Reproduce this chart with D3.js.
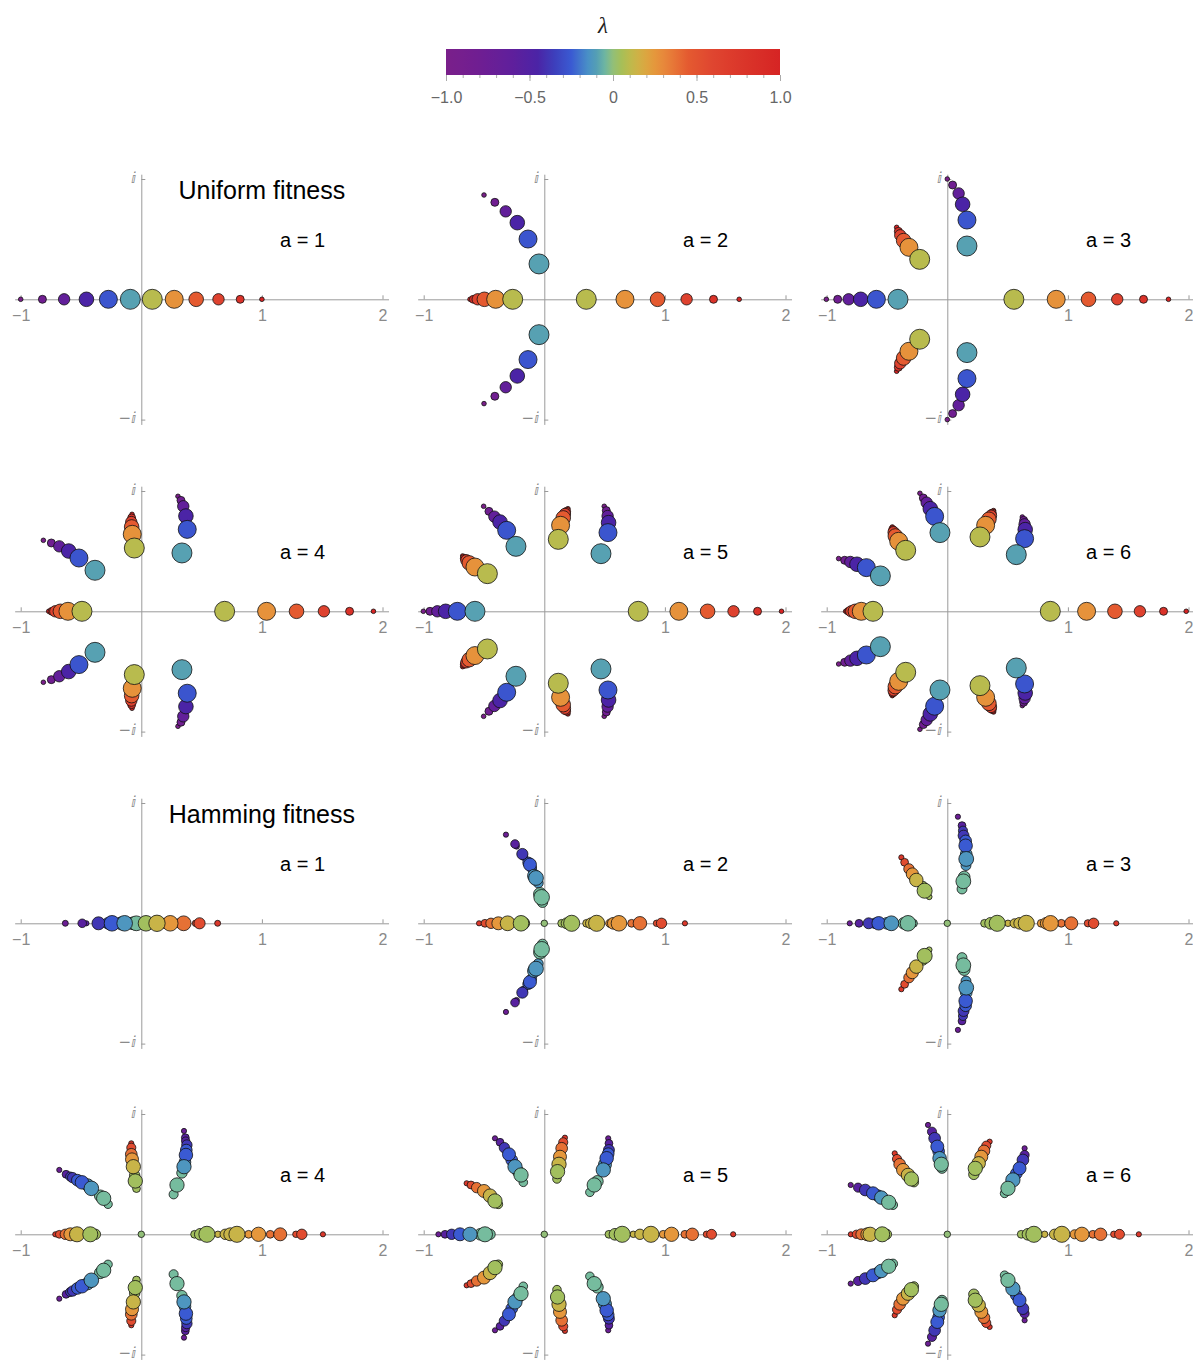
<!DOCTYPE html>
<html>
<head>
<meta charset="utf-8">
<script src="https://cdn.jsdelivr.net/npm/d3@7"></script>
<style>
  body { margin: 0; background: #fff; }
  text { font-family: "Liberation Sans", Arial, sans-serif; }
</style>
</head>
<body>
<div id="chart"></div>
<script>
// colour function for lambda
const colorStops = [-1, -0.8, -0.6, -0.45, -0.35, -0.25, -0.15, -0.07, -0.035, 0, 0.05, 0.1, 0.18, 0.25, 0.32, 0.45, 0.6, 0.8, 1];
const colorValues = ['#7a1f8a', '#6f1e92', '#5f1f9c', '#4b24a6', '#3d3fbc', '#3a5ad2', '#4990c6', '#5ba7ab', '#7bc09c', '#92bf78',
  '#a6bf58', '#bdba4c', '#d9ab42', '#e5973c', '#e8843a', '#e45a30', '#df4530', '#da3429', '#d62424'];
const legendTicks = [-1, -0.5, 0, 0.5, 1];
const legendLabels = ['−1.0', '−0.5', '0', '0.5', '1.0'];

// uniform fitness: lambda levels and the relative point size at each |lambda|
const uniformAbsLevels = [0.09, 0.27, 0.45, 0.64, 0.82, 1];
const uniformWeights = [1.0, 0.9, 0.73, 0.57, 0.4, 0.23];

// points are [re, im, lambda]; only im >= 0 is listed, the conjugate is drawn too
const uniformA1 = [
  [-1, 0, -1], [-0.82, 0, -0.82], [-0.64, 0, -0.64], [-0.455, 0, -0.45], [-0.273, 0, -0.27], [-0.091, 0, -0.09],
  [0.091, 0, 0.09], [0.273, 0, 0.27], [0.455, 0, 0.45], [0.64, 0, 0.64], [0.82, 0, 0.82], [1.0, 0, 1]
];
const uniformA2 = [
  [-0.50, 0.867, -1], [-0.41, 0.806, -0.82], [-0.32, 0.731, -0.64], [-0.224, 0.637, -0.45], [-0.135, 0.501, -0.27], [-0.044, 0.294, -0.09],
  [0.348, 0, 0.09], [0.669, 0, 0.27], [0.939, 0, 0.45], [1.18, 0, 0.64], [1.403, 0, 0.82], [1.616, 0, 1],
  [-0.262, 0, 0.09], [-0.403, 0, 0.27], [-0.497, 0, 0.45], [-0.552, 0, 0.64], [-0.588, 0, 0.82], [-0.616, 0, 1]
];
const uniformA3 = [
  [0.0, 1.0, -1], [0.044, 0.95, -0.82], [0.094, 0.88, -0.64], [0.127, 0.79, -0.45], [0.163, 0.659, -0.27], [0.163, 0.443, -0.09],
  [-1.003, 0, -1], [-0.909, 0, -0.82], [-0.818, 0, -0.64], [-0.718, 0, -0.45], [-0.588, 0, -0.27], [-0.409, 0, -0.09],
  [0.552, 0, 0.09], [0.903, 0, 0.27], [1.171, 0, 0.45], [1.409, 0, 0.64], [1.627, 0, 0.82], [1.834, 0, 1],
  [-0.229, 0.332, 0.09], [-0.318, 0.432, 0.27], [-0.362, 0.488, 0.45], [-0.39, 0.532, 0.64], [-0.406, 0.565, 0.82], [-0.42, 0.598, 1]
];
const uniformA4 = [
  [0.304, 0.956, -1], [0.329, 0.922, -0.82], [0.348, 0.873, -0.64], [0.370, 0.792, -0.45], [0.381, 0.681, -0.27], [0.337, 0.485, -0.09],
  [-0.812, 0.590, -1], [-0.746, 0.568, -0.82], [-0.680, 0.540, -0.64], [-0.602, 0.501, -0.45], [-0.517, 0.443, -0.27], [-0.384, 0.341, -0.09],
  [-0.058, 0.526, 0.09], [-0.075, 0.640, 0.27], [-0.080, 0.701, 0.45], [-0.083, 0.742, 0.64], [-0.080, 0.776, 0.82], [-0.077, 0.806, 1],
  [-0.492, 0, 0.09], [-0.608, 0, 0.27], [-0.671, 0, 0.45], [-0.713, 0, 0.64], [-0.740, 0, 0.82], [-0.768, 0, 1],
  [0.691, 0, 0.09], [1.039, 0, 0.27], [1.287, 0, 0.45], [1.514, 0, 0.64], [1.727, 0, 0.82], [1.925, 0, 1]
];
const uniformA5 = [
  [0.779, 0, 0.09], [1.116, 0, 0.27], [1.354, 0, 0.45], [1.569, 0, 0.64], [1.768, 0, 0.82], [1.967, 0, 1],
  [0.116, 0.598, 0.09], [0.135, 0.715, 0.27], [0.157, 0.776, 0.45], [0.171, 0.809, 0.64], [0.185, 0.831, 0.82], [0.196, 0.853, 1],
  [-0.472, 0.313, 0.09], [-0.575, 0.368, 0.27], [-0.622, 0.402, 0.45], [-0.646, 0.424, 0.64], [-0.663, 0.440, 0.82], [-0.677, 0.460, 1],
  [-0.575, 0, -0.09], [-0.721, 0, -0.27], [-0.818, 0, -0.45], [-0.887, 0, -0.64], [-0.948, 0, -0.82], [-1.003, 0, -1],
  [0.470, 0.479, -0.09], [0.528, 0.654, -0.27], [0.533, 0.737, -0.45], [0.525, 0.792, -0.64], [0.514, 0.837, -0.82], [0.497, 0.873, -1],
  [-0.235, 0.540, -0.09], [-0.312, 0.673, -0.27], [-0.367, 0.742, -0.45], [-0.414, 0.787, -0.64], [-0.459, 0.831, -0.82], [-0.503, 0.873, -1]
];
const uniformA6 = [
  [0.854, 0, 0.09], [1.155, 0, 0.27], [1.390, 0, 0.45], [1.597, 0, 0.64], [1.793, 0, 0.82], [1.981, 0, 1],
  [-0.616, 0, 0.09], [-0.713, 0, 0.27], [-0.762, 0, 0.45], [-0.796, 0, 0.64], [-0.818, 0, 0.82], [-0.843, 0, 1],
  [0.271, 0.618, 0.09], [0.318, 0.715, 0.27], [0.345, 0.765, 0.45], [0.362, 0.795, 0.64], [0.373, 0.817, 0.82], [0.384, 0.837, 1],
  [-0.345, 0.507, 0.09], [-0.403, 0.582, 0.27], [-0.431, 0.626, 0.45], [-0.445, 0.657, 0.64], [-0.453, 0.679, 0.82], [-0.456, 0.701, 1],
  [0.572, 0.471, -0.09], [0.641, 0.604, -0.27], [0.646, 0.679, -0.45], [0.641, 0.723, -0.64], [0.633, 0.756, -0.82], [0.622, 0.784, -1],
  [-0.061, 0.654, -0.09], [-0.105, 0.789, -0.27], [-0.141, 0.853, -0.45], [-0.171, 0.903, -0.64], [-0.199, 0.942, -0.82], [-0.227, 0.981, -1],
  [-0.555, 0.294, -0.09], [-0.671, 0.363, -0.27], [-0.749, 0.391, -0.45], [-0.804, 0.410, -0.64], [-0.851, 0.424, -0.82], [-0.901, 0.438, -1]
];

// hamming fitness: [re, im, lambda, weight]; only im >= 0 is listed
const hammingA1 = [
  [-0.63, 0, -0.75, 0.23], [-0.455, 0, -0.55, 0.2], [-0.49, 0, -0.55, 0.33], [-0.33, 0, -0.38, 0.33], [-0.355, 0, -0.38, 0.5],
  [-0.275, 0, -0.25, 0.45], [-0.243, 0, -0.25, 0.6], [-0.175, 0, -0.13, 0.45], [-0.16, 0, -0.13, 0.52], [-0.138, 0, -0.13, 0.6],
  [-0.08, 0, -0.04, 0.45], [-0.065, 0, -0.04, 0.5], [-0.041, 0, -0.04, 0.57], [0.039, 0, 0.04, 0.6],
  [0.11, 0, 0.13, 0.45], [0.13, 0, 0.13, 0.63], [0.2, 0, 0.25, 0.4], [0.24, 0, 0.25, 0.6],
  [0.325, 0, 0.38, 0.4], [0.351, 0, 0.38, 0.57], [0.45, 0, 0.55, 0.25], [0.483, 0, 0.55, 0.43], [0.633, 0, 0.75, 0.23]
];
const hammingA2 = [
  [-0.318, 0.737, -0.75, 0.2], [-0.243, 0.659, -0.55, 0.33], [-0.23, 0.64, -0.55, 0.22], [-0.182, 0.576, -0.38, 0.43], [-0.17, 0.555, -0.38, 0.3],
  [-0.133, 0.505, -0.25, 0.42], [-0.119, 0.488, -0.25, 0.5], [-0.105, 0.46, -0.25, 0.38], [-0.085, 0.395, -0.13, 0.5], [-0.069, 0.377, -0.13, 0.57],
  [-0.05, 0.335, -0.13, 0.38], [-0.035, 0.243, -0.04, 0.5], [-0.022, 0.216, -0.04, 0.6], [-0.015, 0.175, -0.04, 0.4],
  [0, 0, 0, 0.25],
  [-0.541, 0, 0.75, 0.2], [-0.492, 0, 0.55, 0.3], [-0.442, 0, 0.38, 0.4], [-0.381, 0, 0.25, 0.5], [-0.304, 0, 0.13, 0.57],
  [-0.193, 0, 0.04, 0.6], [-0.17, 0, 0.04, 0.45],
  [0.144, 0, 0.04, 0.3], [0.185, 0, 0.04, 0.42], [0.227, 0, 0.04, 0.62], [0.351, 0, 0.13, 0.3], [0.387, 0, 0.13, 0.42], [0.434, 0, 0.13, 0.62],
  [0.544, 0, 0.25, 0.32], [0.572, 0, 0.25, 0.45], [0.619, 0, 0.25, 0.6], [0.724, 0, 0.38, 0.3], [0.793, 0, 0.38, 0.52],
  [0.931, 0, 0.55, 0.25], [0.972, 0, 0.55, 0.4], [1.166, 0, 0.75, 0.2]
];
const hammingA3 = [
  [0.088, 0.886, -0.75, 0.2], [0.122, 0.812, -0.55, 0.3], [0.13, 0.77, -0.38, 0.35], [0.135, 0.729, -0.38, 0.42], [0.152, 0.685, -0.25, 0.45],
  [0.152, 0.645, -0.25, 0.52], [0.157, 0.575, -0.13, 0.45], [0.157, 0.535, -0.13, 0.57], [0.155, 0.48, -0.13, 0.38],
  [0.14, 0.385, -0.04, 0.45], [0.133, 0.349, -0.04, 0.57], [0.122, 0.285, -0.04, 0.38],
  [-0.381, 0.548, 0.75, 0.2], [-0.354, 0.507, 0.55, 0.3], [-0.318, 0.452, 0.38, 0.4], [-0.29, 0.41, 0.25, 0.47], [-0.257, 0.36, 0.13, 0.52],
  [-0.2, 0.31, 0.04, 0.35], [-0.188, 0.271, 0.04, 0.58], [-0.15, 0.22, 0.04, 0.22],
  [-0.809, 0, -0.75, 0.2], [-0.732, 0, -0.55, 0.3], [-0.652, 0, -0.38, 0.42], [-0.6, 0, -0.25, 0.4], [-0.569, 0, -0.25, 0.52],
  [-0.5, 0, -0.13, 0.45], [-0.464, 0, -0.13, 0.57], [-0.36, 0, -0.04, 0.45], [-0.326, 0, -0.04, 0.6], [-0.28, 0, -0.04, 0.3],
  [0, 0, 0, 0.25],
  [0.309, 0, 0.04, 0.3], [0.359, 0, 0.04, 0.45], [0.414, 0, 0.04, 0.62], [0.503, 0, 0.13, 0.25], [0.558, 0, 0.13, 0.35], [0.6, 0, 0.13, 0.45],
  [0.655, 0, 0.13, 0.62], [0.779, 0, 0.25, 0.3], [0.82, 0, 0.25, 0.45], [0.856, 0, 0.25, 0.6], [0.945, 0, 0.38, 0.3], [1.028, 0, 0.38, 0.5],
  [1.166, 0, 0.55, 0.28], [1.213, 0, 0.55, 0.4], [1.401, 0, 0.75, 0.2]
];
const hammingA4 = [
  [0.354, 0.859, -0.75, 0.2], [0.365, 0.803, -0.55, 0.3], [0.368, 0.775, -0.55, 0.32], [0.378, 0.742, -0.38, 0.4], [0.373, 0.700, -0.25, 0.45],
  [0.370, 0.659, -0.25, 0.52], [0.362, 0.60, -0.13, 0.45], [0.354, 0.562, -0.13, 0.55], [0.337, 0.51, -0.04, 0.4], [0.296, 0.41, -0.04, 0.55],
  [0.268, 0.332, -0.04, 0.35],
  [-0.680, 0.535, -0.75, 0.2], [-0.624, 0.499, -0.55, 0.3], [-0.59, 0.48, -0.38, 0.35], [-0.569, 0.471, -0.38, 0.4], [-0.53, 0.45, -0.25, 0.45],
  [-0.492, 0.432, -0.25, 0.52], [-0.445, 0.41, -0.13, 0.48], [-0.414, 0.382, -0.13, 0.56], [-0.34, 0.32, -0.04, 0.45], [-0.312, 0.299, -0.04, 0.55],
  [-0.276, 0.25, -0.04, 0.33],
  [-0.083, 0.756, 0.75, 0.2], [-0.083, 0.72, 0.55, 0.35], [-0.083, 0.665, 0.38, 0.45], [-0.077, 0.623, 0.25, 0.5], [-0.066, 0.562, 0.13, 0.55],
  [-0.055, 0.49, 0.04, 0.4], [-0.050, 0.443, 0.04, 0.55], [-0.04, 0.38, 0.04, 0.3],
  [-0.713, 0, 0.75, 0.2], [-0.68, 0, 0.55, 0.3], [-0.63, 0, 0.38, 0.4], [-0.588, 0, 0.25, 0.5], [-0.533, 0, 0.13, 0.58],
  [-0.423, 0, 0.04, 0.58], [-0.381, 0, 0.04, 0.4],
  [0, 0, 0, 0.25],
  [0.442, 0, 0.04, 0.3], [0.489, 0, 0.04, 0.45], [0.544, 0, 0.04, 0.62], [0.635, 0, 0.13, 0.25], [0.696, 0, 0.13, 0.4], [0.738, 0, 0.13, 0.5],
  [0.793, 0, 0.13, 0.62], [0.89, 0, 0.25, 0.3], [0.972, 0, 0.25, 0.55], [1.069, 0, 0.38, 0.3], [1.152, 0, 0.38, 0.5],
  [1.282, 0, 0.55, 0.25], [1.331, 0, 0.55, 0.4], [1.506, 0, 0.75, 0.2]
];
const hammingA5 = [
  [0.530, 0.798, -0.75, 0.2], [0.536, 0.756, -0.55, 0.3], [0.536, 0.701, -0.38, 0.42], [0.53, 0.67, -0.25, 0.45], [0.517, 0.632, -0.25, 0.52],
  [0.503, 0.58, -0.13, 0.5], [0.489, 0.535, -0.13, 0.55], [0.44, 0.44, -0.04, 0.45], [0.414, 0.41, -0.04, 0.55], [0.378, 0.349, -0.04, 0.33],
  [-0.409, 0.798, -0.75, 0.2], [-0.367, 0.765, -0.55, 0.3], [-0.331, 0.72, -0.38, 0.4], [-0.293, 0.665, -0.25, 0.5], [-0.27, 0.617, -0.25, 0.45],
  [-0.243, 0.562, -0.13, 0.55], [-0.215, 0.52, -0.04, 0.45], [-0.193, 0.493, -0.04, 0.55], [-0.174, 0.432, -0.04, 0.33],
  [0.171, 0.803, 0.75, 0.2], [0.157, 0.765, 0.55, 0.35], [0.144, 0.715, 0.38, 0.45], [0.13, 0.645, 0.25, 0.5], [0.122, 0.582, 0.13, 0.55],
  [0.115, 0.545, 0.04, 0.4], [0.11, 0.521, 0.04, 0.55], [0.105, 0.46, 0.04, 0.33],
  [-0.644, 0.424, 0.75, 0.2], [-0.608, 0.41, 0.55, 0.3], [-0.561, 0.388, 0.38, 0.4], [-0.5, 0.36, 0.25, 0.5], [-0.45, 0.321, 0.13, 0.52],
  [-0.43, 0.3, 0.04, 0.4], [-0.409, 0.277, 0.04, 0.55], [-0.381, 0.249, 0.04, 0.33],
  [-0.878, 0, -0.75, 0.2], [-0.823, 0, -0.55, 0.3], [-0.768, 0, -0.38, 0.4], [-0.699, 0, -0.25, 0.5], [-0.616, 0, -0.13, 0.55],
  [-0.53, 0, -0.04, 0.45], [-0.492, 0, -0.04, 0.58], [-0.45, 0, -0.04, 0.4],
  [0, 0, 0, 0.25],
  [0.536, 0, 0.04, 0.3], [0.586, 0, 0.04, 0.45], [0.646, 0, 0.04, 0.62], [0.738, 0, 0.13, 0.25], [0.793, 0, 0.13, 0.4], [0.884, 0, 0.13, 0.62],
  [0.986, 0, 0.25, 0.3], [1.055, 0, 0.25, 0.55], [1.166, 0, 0.38, 0.3], [1.227, 0, 0.38, 0.48], [1.345, 0, 0.55, 0.25],
  [1.387, 0, 0.55, 0.38], [1.566, 0, 0.75, 0.2]
];
const hammingA6 = [
  [0.641, 0.715, -0.75, 0.2], [0.641, 0.659, -0.55, 0.35], [0.627, 0.618, -0.38, 0.45], [0.599, 0.548, -0.25, 0.5], [0.572, 0.505, -0.25, 0.45],
  [0.544, 0.452, -0.13, 0.55], [0.503, 0.382, -0.04, 0.55], [0.475, 0.34, -0.04, 0.33],
  [-0.160, 0.909, -0.75, 0.2], [-0.127, 0.853, -0.55, 0.35], [-0.105, 0.798, -0.38, 0.45], [-0.083, 0.729, -0.25, 0.5], [-0.072, 0.69, -0.25, 0.45],
  [-0.064, 0.632, -0.13, 0.52], [-0.050, 0.582, -0.04, 0.55], [-0.044, 0.55, -0.04, 0.4],
  [-0.801, 0.41, -0.75, 0.2], [-0.74, 0.388, -0.55, 0.35], [-0.68, 0.368, -0.38, 0.45], [-0.616, 0.341, -0.25, 0.5], [-0.575, 0.321, -0.25, 0.45],
  [-0.547, 0.305, -0.13, 0.52], [-0.486, 0.266, -0.04, 0.55], [-0.45, 0.244, -0.04, 0.35],
  [0.351, 0.77, 0.75, 0.2], [0.323, 0.737, 0.55, 0.35], [0.304, 0.693, 0.38, 0.45], [0.282, 0.645, 0.25, 0.5], [0.26, 0.59, 0.13, 0.52],
  [0.232, 0.548, 0.04, 0.55], [0.22, 0.498, 0.04, 0.4],
  [-0.436, 0.673, 0.75, 0.2], [-0.417, 0.626, 0.55, 0.35], [-0.395, 0.582, 0.38, 0.45], [-0.367, 0.535, 0.25, 0.5], [-0.326, 0.493, 0.13, 0.52],
  [-0.298, 0.46, 0.04, 0.55], [-0.276, 0.432, 0.04, 0.35],
  [-0.80, 0, 0.75, 0.2], [-0.754, 0, 0.55, 0.32], [-0.713, 0, 0.38, 0.42], [-0.663, 0, 0.25, 0.5], [-0.64, 0, 0.13, 0.55],
  [-0.54, 0, 0.04, 0.58], [-0.505, 0, 0.04, 0.4],
  [0, 0, 0, 0.25],
  [0.613, 0, 0.04, 0.3], [0.669, 0, 0.04, 0.45], [0.718, 0, 0.04, 0.62], [0.807, 0, 0.13, 0.25], [0.89, 0, 0.13, 0.4], [0.95, 0, 0.13, 0.62],
  [1.055, 0, 0.25, 0.35], [1.116, 0, 0.25, 0.55], [1.207, 0, 0.38, 0.3], [1.271, 0, 0.38, 0.48], [1.381, 0, 0.55, 0.25],
  [1.428, 0, 0.55, 0.38], [1.588, 0, 0.75, 0.2]
];

const titles = ['Uniform fitness', 'Hamming fitness'];

const width = 1193, height = 1361;
const colX = [141.3, 544.3, 947.3];
const rowY = [299.3, 611.3, 923.3, 1234.3];
const unitX = 120.6, unitY = 120.3;

const colorScale = d3.scaleLinear().domain(colorStops).range(colorValues).interpolate(d3.interpolateRgb);
const uniformSize = d3.scaleLinear().domain([0, 1]).range([0, 10]);
const hammingSize = d3.scaleLinear().domain([0, 1]).range([0, 13]);
const uniformWeight = d3.scaleOrdinal().domain(uniformAbsLevels).range(uniformWeights);

const panels = [
  { kind: 'uniform', a: 1, pts: uniformA1 }, { kind: 'uniform', a: 2, pts: uniformA2 }, { kind: 'uniform', a: 3, pts: uniformA3 },
  { kind: 'uniform', a: 4, pts: uniformA4 }, { kind: 'uniform', a: 5, pts: uniformA5 }, { kind: 'uniform', a: 6, pts: uniformA6 },
  { kind: 'hamming', a: 1, pts: hammingA1 }, { kind: 'hamming', a: 2, pts: hammingA2 }, { kind: 'hamming', a: 3, pts: hammingA3 },
  { kind: 'hamming', a: 4, pts: hammingA4 }, { kind: 'hamming', a: 5, pts: hammingA5 }, { kind: 'hamming', a: 6, pts: hammingA6 }
];

const svg = d3.select('#chart').append('svg')
  .attr('width', width)
  .attr('height', height);

// legend bar
const legendX = d3.scaleLinear().domain([-1, 1]).range([446, 780]);
const grad = svg.append('defs').append('linearGradient')
  .attr('id', 'lambda-grad')
  .attr('x1', '0%').attr('x2', '100%').attr('y1', '0%').attr('y2', '0%');
grad.selectAll('stop')
  .data(d3.range(0, 41).map((k) => -1 + k * 0.05))
  .enter()
  .append('stop')
  .attr('offset', (d) => `${((d + 1) / 2) * 100}%`)
  .attr('stop-color', (d) => colorScale(d));

const legend = svg.append('g');
legend.append('rect')
  .attr('x', legendX(-1))
  .attr('y', 49)
  .attr('width', legendX(1) - legendX(-1))
  .attr('height', 26)
  .attr('fill', 'url(#lambda-grad)');

legend.append('g')
  .attr('transform', 'translate(0,75)')
  .call(d3.axisBottom(legendX).tickValues(d3.range(-10, 11).map((k) => k / 10)).tickSize(3).tickFormat(''))
  .call((g) => g.select('.domain').remove())
  .call((g) => g.selectAll('line').attr('stroke', '#aaa'));

legend.append('g')
  .attr('transform', 'translate(0,75)')
  .call(d3.axisBottom(legendX).tickValues(legendTicks).tickSize(6).tickPadding(11)
    .tickFormat((d, i) => legendLabels[i]))
  .call((g) => g.select('.domain').remove())
  .call((g) => g.selectAll('line').attr('stroke', '#aaa'))
  .call((g) => g.selectAll('text')
    .attr('fill', '#666')
    .style('font-size', '16px')
    .style('font-family', '"Liberation Sans", Arial, sans-serif'));

legend.append('text')
  .attr('x', 603)
  .attr('y', 33)
  .attr('text-anchor', 'middle')
  .style('font-family', '"Liberation Serif", "DejaVu Serif", serif')
  .style('font-style', 'italic')
  .style('font-size', '23px')
  .attr('fill', '#222')
  .text('λ');

// panels
panels.forEach((p, idx) => {
  const row = Math.floor(idx / 3);
  const col = idx % 3;
  const ox = colX[col];
  const oy = rowY[row];

  const x = d3.scaleLinear().domain([-1.05, 2.05]).range([ox - 1.05 * unitX, ox + 2.05 * unitX]);
  const y = d3.scaleLinear().domain([-1.04, 1.04]).range([oy + 1.04 * unitY, oy - 1.04 * unitY]);
  const size = p.kind === 'uniform' ? uniformSize : hammingSize;

  const g = svg.append('g');

  // axes
  g.append('g')
    .attr('transform', `translate(0,${y(0)})`)
    .call(d3.axisBottom(x).tickValues([-1, 1, 2]).tickSizeInner(-4).tickSizeOuter(0).tickPadding(10)
      .tickFormat((d) => (d < 0 ? '−' + Math.abs(d) : String(d))))
    .call((ax) => ax.select('.domain').attr('stroke', '#9a9a9a'))
    .call((ax) => ax.selectAll('line').attr('stroke', '#9a9a9a'))
    .call((ax) => ax.selectAll('text')
      .attr('fill', '#8a8a8a')
      .style('font-size', '16px')
      .style('font-family', '"Liberation Sans", Arial, sans-serif'));

  g.append('g')
    .attr('transform', `translate(${x(0)},0)`)
    .call(d3.axisLeft(y).tickValues([-1, 1]).tickSizeInner(-4).tickSizeOuter(0).tickPadding(5)
      .tickFormat((d) => (d < 0 ? '−ⅈ' : 'ⅈ')))
    .call((ax) => ax.select('.domain').attr('stroke', '#9a9a9a'))
    .call((ax) => ax.selectAll('line').attr('stroke', '#9a9a9a'))
    .call((ax) => ax.selectAll('text')
      .attr('fill', '#8a8a8a')
      .attr('dy', '0.2em')
      .style('font-size', '15px')
      .style('font-family', '"DejaVu Sans", sans-serif'));

  // expand conjugates and draw larger circles on top
  const pts = [];
  p.pts.forEach((d) => {
    const w = p.kind === 'uniform' ? uniformWeight(Math.abs(d[2])) : d[3];
    pts.push({ re: d[0], im: d[1], lam: d[2], w: w });
    if (d[1] > 0) pts.push({ re: d[0], im: -d[1], lam: d[2], w: w });
  });
  const sorted = pts.map((d, i) => ({ ...d, i })).sort((a, b) => (a.w - b.w) || (a.i - b.i));

  g.append('g')
    .selectAll('circle')
    .data(sorted)
    .enter()
    .append('circle')
    .attr('cx', (d) => x(d.re))
    .attr('cy', (d) => y(d.im))
    .attr('r', (d) => size(d.w))
    .attr('fill', (d) => colorScale(d.lam))
    .attr('stroke', '#111')
    .attr('stroke-width', 0.8);

  g.append('text')
    .attr('x', x(1.15))
    .attr('y', y(0.432))
    .style('font-size', '20px')
    .attr('fill', '#000')
    .text(`a = ${p.a}`);

  if (p.a === 1) {
    g.append('text')
      .attr('x', x(1.0))
      .attr('y', y(0.83))
      .attr('text-anchor', 'middle')
      .style('font-size', '25px')
      .attr('fill', '#000')
      .text(titles[p.kind === 'uniform' ? 0 : 1]);
  }
});
</script>
</body>
</html>
